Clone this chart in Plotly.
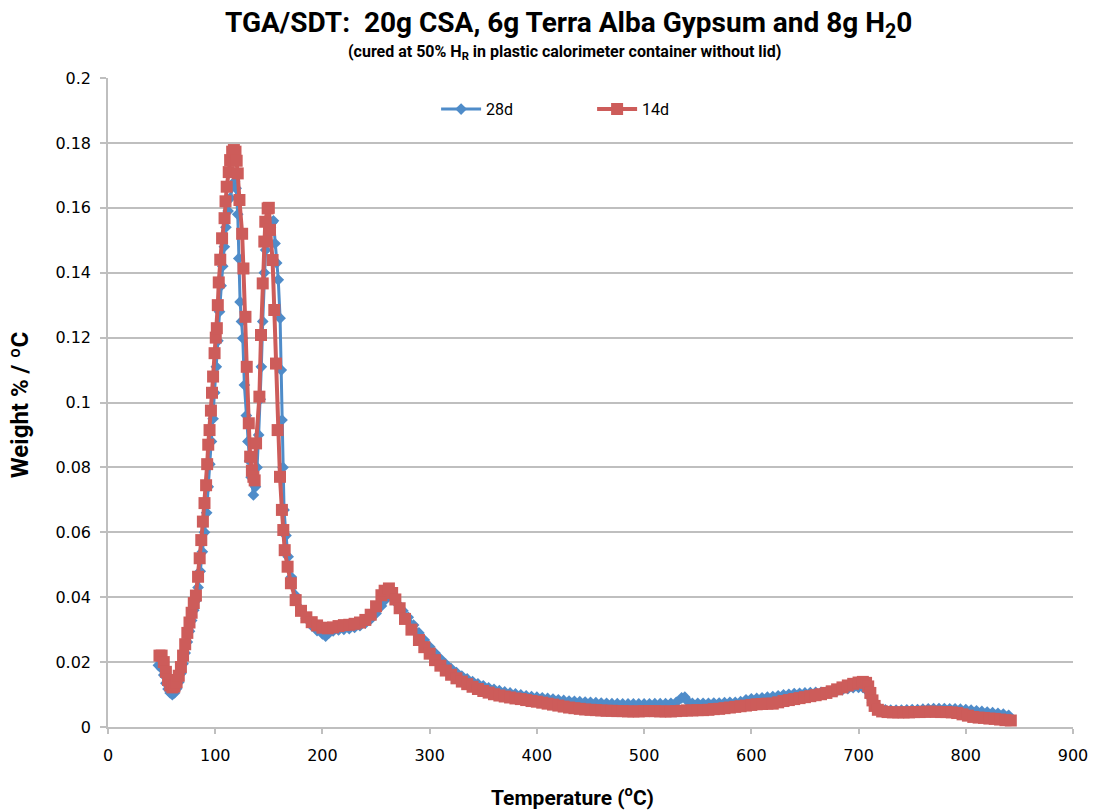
import plotly.graph_objects as go

# ---------------- data ----------------
T_28d = [47, 50, 52, 54, 56, 58, 60, 62, 64, 66, 68, 70, 72, 74, 76, 78, 80, 82, 84, 86, 88,
         90, 92, 93.5, 95, 96.5, 98, 99.5, 101, 102.5, 104, 105.5, 107, 108.5, 110, 112, 114,
         116, 118, 119.5, 121, 122, 123.2, 124.5, 125.7, 127.2, 129, 130.5, 132, 133.5, 135.6,
         137.5, 139, 140.5, 142, 143, 144.3, 145.8, 147, 148.5, 150, 151.5, 153, 154.3, 155.8,
         157.3, 158.8, 160.5, 161.6, 162.3, 163.2, 164.2, 166, 168, 171, 175, 180, 185, 190,
         195, 200, 203, 206, 210, 215, 220, 225, 230, 235, 240, 245, 250, 255, 258, 261, 264,
         267, 271, 275, 280, 285, 290, 295, 300, 305, 310, 315, 320, 325, 330, 335, 340, 345,
         350, 355, 360, 365, 370, 375, 380, 385, 390, 395, 400, 405, 410, 415, 420, 425, 430,
         435, 440, 445, 450, 455, 460, 465, 470, 475, 480, 485, 490, 495, 500, 505, 510, 515,
         520, 525, 530, 535, 538, 541, 545, 550, 555, 560, 565, 570, 575, 580, 585, 590, 595,
         600, 605, 610, 615, 620, 625, 630, 635, 640, 645, 650, 655, 660, 665, 670, 675, 680,
         685, 690, 695, 700, 704, 707, 709, 711, 713, 716, 720, 725, 730, 735, 740, 745, 750,
         755, 760, 765, 770, 775, 780, 785, 790, 795, 800, 805, 810, 815, 820, 825, 830, 835, 840]
W_28d = [0.0190, 0.0180, 0.0160, 0.0135, 0.0117, 0.0105, 0.0100, 0.0105, 0.0118, 0.0138, 0.0165,
         0.0195, 0.0228, 0.0262, 0.0295, 0.0328, 0.0360, 0.0390, 0.0430, 0.0480, 0.0540,
         0.0600, 0.0660, 0.0740, 0.0810, 0.0880, 0.0950, 0.1030, 0.1110, 0.1190, 0.1280,
         0.1360, 0.1420, 0.1480, 0.1540, 0.1590, 0.1630, 0.1665, 0.1680, 0.1660, 0.1580,
         0.1444, 0.1310, 0.1250, 0.1198, 0.1054, 0.0960, 0.0880, 0.0820, 0.0770, 0.0715,
         0.0740, 0.0800, 0.0900, 0.1010, 0.1110, 0.1250, 0.1400, 0.1470, 0.1500, 0.1520,
         0.1540, 0.1555, 0.1560, 0.1490, 0.1430, 0.1378, 0.1260, 0.1100, 0.0946, 0.0800,
         0.0669, 0.0590, 0.0525, 0.0462, 0.0405, 0.0362, 0.0335, 0.0312, 0.0297, 0.0287,
         0.0280, 0.0290, 0.0296, 0.0299, 0.0301, 0.0303, 0.0307, 0.0312, 0.0320, 0.0332,
         0.0350, 0.0373, 0.0390, 0.0406, 0.0402, 0.0392, 0.0376, 0.0358, 0.0338, 0.0314,
         0.0290, 0.0268, 0.0247, 0.0228, 0.0210, 0.0194, 0.0180, 0.0168, 0.0157, 0.0148,
         0.0140, 0.0133, 0.0127, 0.0121, 0.0116, 0.0112, 0.0108, 0.0105, 0.0102, 0.0099,
         0.0096, 0.0094, 0.0092, 0.0090, 0.0088, 0.0086, 0.0084, 0.0082, 0.0080, 0.0079,
         0.0078, 0.0077, 0.0076, 0.0075, 0.0074, 0.0073, 0.0072, 0.0072, 0.0071, 0.0071,
         0.0071, 0.0071, 0.0071, 0.0071, 0.0072, 0.0072, 0.0072, 0.0073, 0.0076, 0.0090,
         0.0092, 0.0078, 0.0073, 0.0073, 0.0073, 0.0073, 0.0074, 0.0074, 0.0075, 0.0076,
         0.0076, 0.0078, 0.0084, 0.0087, 0.0088, 0.0090, 0.0092, 0.0094, 0.0096, 0.0099,
         0.0101, 0.0103, 0.0104, 0.0105, 0.0106, 0.0107, 0.0107, 0.0108, 0.0109, 0.0112,
         0.0115, 0.0118, 0.0121, 0.0122, 0.0122, 0.0118, 0.0108, 0.0092, 0.0075, 0.0062,
         0.0056, 0.0053, 0.0052, 0.0052, 0.0052, 0.0053, 0.0054, 0.0054, 0.0055, 0.0056,
         0.0057, 0.0057, 0.0057, 0.0056, 0.0056, 0.0055, 0.0054, 0.0052, 0.0050, 0.0048,
         0.0046, 0.0044, 0.0042, 0.0040, 0.0036]

T_14d = [48, 50, 52, 54, 56, 58, 60, 62, 64, 66, 68, 70, 72, 74, 76, 78, 80, 82, 84, 85.5, 87,
         88.5, 90, 91.5, 92.5, 93.5, 94.7, 96, 97, 98, 99.4, 100.5, 101.5, 102.4, 103.3, 104.7,
         106.4, 108.7, 109.6, 110.7, 112.6, 113.9, 115.8, 117.4, 118.9, 120, 121, 122.6, 125.1,
         126.3, 128.2, 129.4, 131.3, 132.6, 134.2, 135.6, 136.8, 138.1, 141.2, 142.7, 144.3,
         145.8, 146.7, 148.9, 150, 151.1, 153.5, 155.1, 156.7, 158.2, 160.4, 162.2, 163.5,
         164.8, 167.5, 170.6, 175, 180, 185, 190, 195, 200, 205, 210, 215, 220, 225, 230, 235,
         240, 245, 250, 255, 258, 262, 265, 268, 272, 277, 283, 290, 295, 300, 305, 310, 315,
         320, 325, 330, 335, 340, 345, 350, 355, 360, 365, 370, 375, 380, 385, 390, 395, 400,
         405, 410, 415, 420, 425, 430, 435, 440, 445, 450, 455, 460, 465, 470, 475, 480, 485,
         490, 495, 500, 505, 510, 515, 520, 525, 530, 535, 540, 545, 550, 555, 560, 565, 570,
         575, 580, 585, 590, 595, 600, 605, 610, 615, 620, 625, 630, 635, 640, 645, 650, 655,
         660, 665, 670, 675, 680, 685, 690, 695, 700, 704, 707, 709, 711, 713, 715, 718, 722,
         727, 732, 737, 742, 747, 752, 757, 762, 767, 772, 777, 782, 787, 792, 797, 802, 807,
         812, 817, 822, 827, 832, 837, 842]
W_14d = [0.0220, 0.0220, 0.0200, 0.0170, 0.0145, 0.0128, 0.0122, 0.0125, 0.0138, 0.0158, 0.0185,
         0.0220, 0.0255, 0.0290, 0.0322, 0.0352, 0.0382, 0.0405, 0.0463, 0.0520, 0.0576,
         0.0633, 0.0690, 0.0745, 0.0810, 0.0870, 0.0915, 0.0975, 0.1030, 0.1080, 0.1152,
         0.1200, 0.1229, 0.1300, 0.1370, 0.1440, 0.1506, 0.1568, 0.1620, 0.1665, 0.1710,
         0.1747, 0.1773, 0.1778, 0.1773, 0.1745, 0.1706, 0.1624, 0.1520, 0.1413, 0.1264,
         0.1110, 0.0936, 0.0833, 0.0790, 0.0771, 0.0760, 0.0874, 0.1018, 0.1208, 0.1367,
         0.1496, 0.1557, 0.1598, 0.1600, 0.1532, 0.1439, 0.1285, 0.1120, 0.0915, 0.0771,
         0.0669, 0.0607, 0.0545, 0.0494, 0.0443, 0.0391, 0.0358, 0.0338, 0.0323, 0.0313,
         0.0306, 0.0304, 0.0307, 0.0311, 0.0314, 0.0315, 0.0318, 0.0322, 0.0330, 0.0346,
         0.0372, 0.0406, 0.0420, 0.0427, 0.0413, 0.0393, 0.0366, 0.0333, 0.0300, 0.0268,
         0.0246, 0.0226, 0.0206, 0.0189, 0.0174, 0.0161, 0.0150, 0.0140, 0.0132, 0.0124,
         0.0117, 0.0111, 0.0106, 0.0101, 0.0097, 0.0094, 0.0091, 0.0088, 0.0086, 0.0083,
         0.0080, 0.0078, 0.0075, 0.0072, 0.0069, 0.0066, 0.0063, 0.0060, 0.0058, 0.0056,
         0.0054, 0.0053, 0.0052, 0.0051, 0.0050, 0.0050, 0.0049, 0.0049, 0.0048, 0.0048,
         0.0048, 0.0049, 0.0049, 0.0049, 0.0048, 0.0048, 0.0048, 0.0049, 0.0050, 0.0051,
         0.0051, 0.0052, 0.0052, 0.0053, 0.0055, 0.0056, 0.0058, 0.0060, 0.0062, 0.0064,
         0.0066, 0.0068, 0.0070, 0.0071, 0.0072, 0.0072, 0.0076, 0.0080, 0.0083, 0.0086,
         0.0089, 0.0092, 0.0095, 0.0098, 0.0101, 0.0105, 0.0110, 0.0116, 0.0122, 0.0128,
         0.0133, 0.0137, 0.0139, 0.0136, 0.0125, 0.0105, 0.0082, 0.0065, 0.0053, 0.0048,
         0.0046, 0.0045, 0.0045, 0.0045, 0.0045, 0.0046, 0.0046, 0.0047, 0.0047, 0.0047,
         0.0046, 0.0046, 0.0045, 0.0043, 0.0039, 0.0035, 0.0031, 0.0029, 0.0028, 0.0026,
         0.0025, 0.0023, 0.0021, 0.0020]

X_TICKS = [0, 100, 200, 300, 400, 500, 600, 700, 800, 900]
Y_TICKS = [0, 0.02, 0.04, 0.06, 0.08, 0.1, 0.12, 0.14, 0.16, 0.18, 0.2]
Y_TICKTEXT = ["0", "0.02", "0.04", "0.06", "0.08", "0.1", "0.12", "0.14", "0.16", "0.18", "0.2"]

SERIES_NAMES = ["28d", "14d"]

# ---------------- styling ----------------
BLUE = "#4F8CC9"
RED = "#CD5C5A"
GRID = "#BFBFBF"
TEXTFONT = "Roboto, Arial, sans-serif"
TICKFONT = "DejaVu Sans, Verdana, sans-serif"

fig = go.Figure()
fig.add_trace(go.Scatter(
    x=T_28d, y=W_28d, name=SERIES_NAMES[0], mode="lines+markers",
    line=dict(color=BLUE, width=3),
    marker=dict(symbol="diamond", size=9, color=BLUE),
))
fig.add_trace(go.Scatter(
    x=T_14d, y=W_14d, name=SERIES_NAMES[1], mode="lines+markers",
    line=dict(color=RED, width=4),
    marker=dict(symbol="square", size=12, color=RED),
))

fig.update_layout(
    width=1100, height=812,
    margin=dict(l=108, r=18, t=78, b=85),
    paper_bgcolor="white", plot_bgcolor="white",
    showlegend=True,
    legend=dict(orientation="h", x=0.340, y=0.952, xanchor="left", yanchor="middle",
                entrywidth=101, entrywidthmode="pixels",
                font=dict(family=TEXTFONT, size=16, color="black"),
                bgcolor="rgba(0,0,0,0)", itemwidth=40),
    hovermode=False,
    annotations=[
        dict(text="<b>TGA/SDT:  20g CSA, 6g Terra Alba Gypsum and 8g H<sub>2</sub>0</b>",
             xref="paper", yref="paper", x=0.477, y=1.083, xanchor="center", yanchor="middle",
             showarrow=False, font=dict(family=TEXTFONT, size=28, color="black")),
        dict(text="<b>(cured at 50% H<sub>R</sub> in plastic calorimeter container without lid)</b>",
             xref="paper", yref="paper", x=0.473, y=1.040, xanchor="center", yanchor="middle",
             showarrow=False, font=dict(family=TEXTFONT, size=16, color="black")),
        dict(text="<b>Temperature (<sup>o</sup>C)</b>",
             xref="paper", yref="paper", x=0.481, y=-0.107, xanchor="center", yanchor="middle",
             showarrow=False, font=dict(family=TEXTFONT, size=21, color="black")),
        dict(text="<b>Weight % / ºC</b>", textangle=-90,
             xref="paper", yref="paper", x=-0.091, y=0.496, xanchor="center", yanchor="middle",
             showarrow=False, font=dict(family=TEXTFONT, size=24, color="black")),
    ],
)

fig.update_xaxes(
    range=[0, 900], tickvals=X_TICKS, ticktext=[str(v) for v in X_TICKS],
    showgrid=False, zeroline=False, showline=True, linecolor=GRID, linewidth=1.5,
    ticks="outside", ticklen=5, tickcolor=GRID, tickwidth=1.5,
    tickfont=dict(family=TICKFONT, size=16, color="black"), ticklabelstandoff=8,
)
fig.update_yaxes(
    range=[0, 0.2], tickvals=Y_TICKS, ticktext=Y_TICKTEXT,
    showgrid=True, gridcolor=GRID, gridwidth=1.5, zeroline=False,
    showline=True, linecolor=GRID, linewidth=1.5,
    ticks="outside", ticklen=6, tickcolor=GRID, tickwidth=1.5,
    tickfont=dict(family=TICKFONT, size=16, color="black"), ticklabelstandoff=6,
)

# remove the default 8px page margin so the 1100x812 figure fills the window exactly
fig.write_html("out.html", config={"displayModeBar": False},
               post_script="document.body.style.margin='0';document.body.style.overflow='hidden';")
